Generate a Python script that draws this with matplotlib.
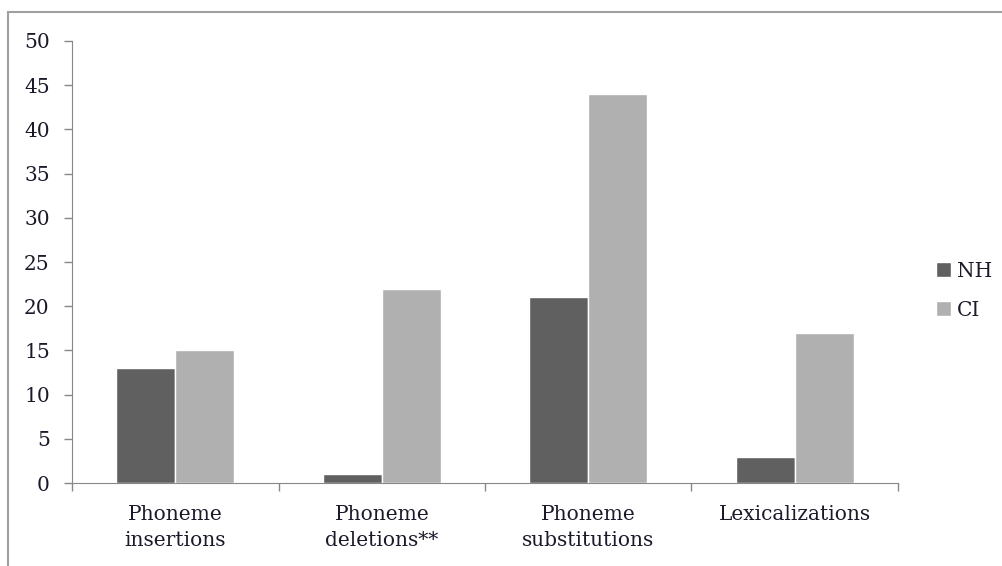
import numpy as np
import matplotlib
matplotlib.use("Agg")
import matplotlib.pyplot as plt
from matplotlib.patches import Rectangle

# Data
categories = ["Phoneme\ninsertions", "Phoneme\ndeletions**", "Phoneme\nsubstitutions", "Lexicalizations"]
nh_values = [13, 1, 21, 3]
ci_values = [15, 22, 44, 17]
y_ticks = [0, 5, 10, 15, 20, 25, 30, 35, 40, 45, 50]

plt.rcParams['font.family'] = ['DejaVu Serif']

fig = plt.figure(figsize=(10.03, 5.66), dpi=100)
ax = fig.add_axes([0.0718, 0.1466, 0.8235, 0.781])

x = np.arange(len(categories))
w = 0.286
ax.bar(x - w / 2, nh_values, w, color='#606060', edgecolor='white', linewidth=1, label='NH', zorder=3)
ax.bar(x + w / 2, ci_values, w, color='#b0b0b0', edgecolor='white', linewidth=1, label='CI', zorder=3)

ax.set_xlim(-0.5, len(categories) - 0.5)
ax.set_ylim(0, 50)
ax.set_yticks(y_ticks)
ax.set_xticks(x)
ax.set_xticklabels(categories, fontsize=14.5, linespacing=1.45, va='top', color='#1a1a2a')
ax.set_xticks(np.arange(-0.5, len(categories), 1), minor=True)
ax.tick_params(axis='x', which='major', length=0, pad=16)
ax.tick_params(axis='x', which='minor', length=6, color='#888888', width=1)
ax.tick_params(axis='y', length=6, color='#888888', width=1, labelsize=14.5, pad=10,
               labelcolor='#1a1a2a')

for s in ['top', 'right']:
    ax.spines[s].set_visible(False)
for s in ['left', 'bottom']:
    ax.spines[s].set_color('#888888')

leg = ax.legend(loc='center left', bbox_to_anchor=(1.024, 0.435), frameon=False, fontsize=14.5,
                handlelength=0.75, handleheight=0.75, handletextpad=0.3, labelspacing=1.0)
for t in leg.get_texts():
    t.set_color('#1a1a2a')

# outer frame
fig.patches.append(Rectangle((0.008, -0.1), 1.5, 1.078, transform=fig.transFigure,
                             fill=False, edgecolor='#a0a0a0', linewidth=1.5))

fig.savefig("out.png", dpi=100)
